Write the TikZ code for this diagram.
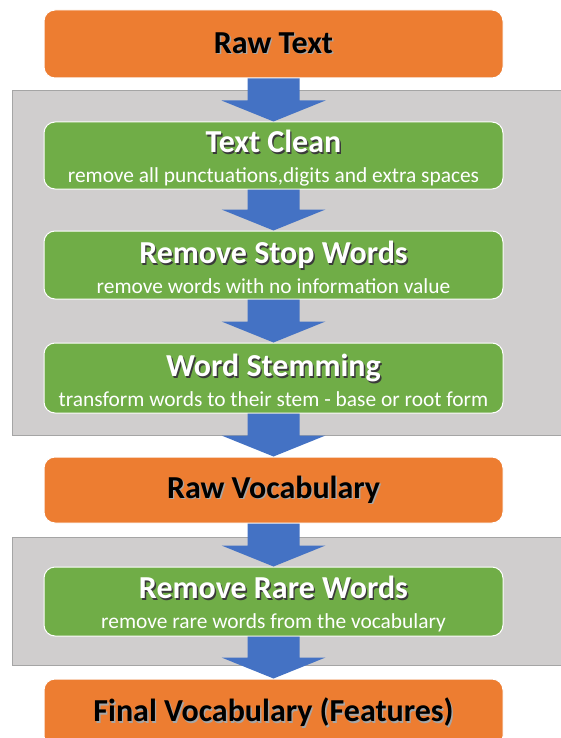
\documentclass[tikz,border=0pt]{standalone}
\usepackage{fontspec}
\setmainfont{Carlito}
\usepackage{xcolor}
\usetikzlibrary{positioning, calc}

\definecolor{boxorange}{HTML}{ED7D31}
\definecolor{boxgreen}{HTML}{70AD47}
\definecolor{arrowblue}{HTML}{4472C4}
\definecolor{panelgrey}{HTML}{D0CECE}
\definecolor{panelline}{HTML}{A5A5A5}
\definecolor{shadowgrey}{HTML}{3A3A3A}

% text with a small drop shadow
\newcommand{\shtext}[2]{\makebox[0pt][l]{\hspace{1.4pt}\raisebox{-1.4pt}{\color{#1}#2}}#2}
\newcommand{\titlefont}{\fontsize{32}{30}\selectfont\bfseries}
\newcommand{\subfont}{\fontsize{21.4}{30}\selectfont}
\newcommand{\proctitle}[1]{\rule{0pt}{28pt}\titlefont\shtext{shadowgrey}{#1}}
% block arrow from one box to the next
\newcommand{\flowarrow}[2]{%
  \fill[arrowblue] let \p1=(#1.south), \p2=(#2.north) in
    (\x1-26pt,\y1) -- (\x1+26pt,\y1) -- (\x1+26pt,\y2+21pt) -- (\x1+52pt,\y2+21pt)
    -- (\x2,\y2) -- (\x1-52pt,\y2+21pt) -- (\x1-26pt,\y2+21pt) -- cycle;}

\begin{document}
\begin{tikzpicture}[x=1pt,y=-1pt]
	\tikzstyle{panel}=[fill=panelgrey,draw=panelline,line width=1pt]
	\tikzstyle{stage}=[rounded corners=11pt,draw=white,line width=1pt,minimum width=459pt,inner sep=0pt,align=center,font=\subfont]
	\tikzstyle{inout}=[stage,fill=boxorange,text=black]
	\tikzstyle{process}=[stage,fill=boxgreen,text=white]
	\useasboundingbox (0,0) rectangle (561,738);
	\fill[white] (0,0) rectangle (561,738);
	% grey panels
	\draw[panel] (12,91) rectangle (575,435);
	\draw[panel] (12,537) rectangle (575,665);
	% boxes
	\node[inout,minimum height=68pt](rawtext) at (273.5,44) {\titlefont\shtext{gray!70}{Raw Text}};
	\node[process,minimum height=67pt](clean) at (273.5,155.5) {\proctitle{Text Clean}\\
		\subfont remove all punctuations,digits and extra spaces};
	\node[process,minimum height=68pt](stop) at (273.5,265) {\proctitle{Remove Stop Words}\\
		\subfont remove words with no information value};
	\node[process,minimum height=70pt](stem) at (273.5,378) {\proctitle{Word Stemming}\\
		\subfont transform words to their stem - base or root form};
	\node[inout,minimum height=66pt](rawvocab) at (273.5,490) {\titlefont\shtext{gray!70}{Raw Vocabulary}};
	\node[process,minimum height=69pt](rare) at (273.5,601.5) {\proctitle{Remove Rare Words}\\
		\subfont remove rare words from the vocabulary};
	\node[inout,minimum height=68pt](final) at (273.5,713) {\titlefont\shtext{gray!70}{Final Vocabulary (Features)}};
	% arrows
	\flowarrow{rawtext}{clean}
	\flowarrow{clean}{stop}
	\flowarrow{stop}{stem}
	\flowarrow{stem}{rawvocab}
	\flowarrow{rawvocab}{rare}
	\flowarrow{rare}{final}
\end{tikzpicture}
\end{document}
